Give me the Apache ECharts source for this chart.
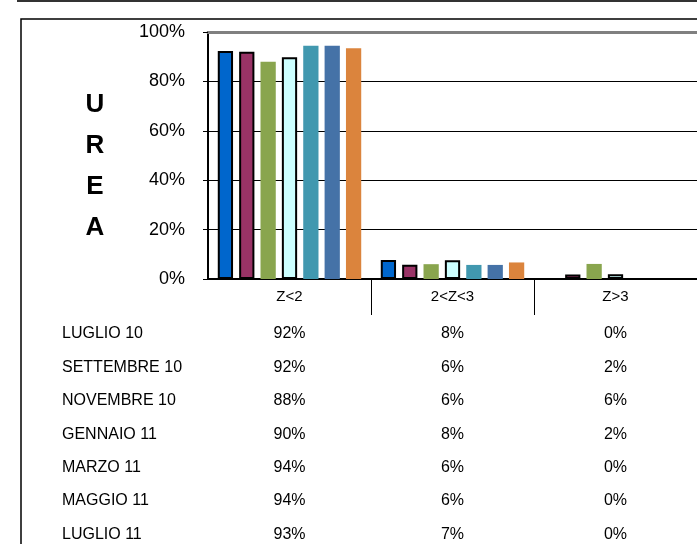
<!DOCTYPE html>
<html>
<head>
<meta charset="utf-8">
<script src="https://cdn.jsdelivr.net/npm/echarts@6/dist/echarts.min.js"></script>
<style>
  html, body { margin: 0; padding: 0; background: #fff; }
  #main { width: 697px; height: 544px; }
</style>
</head>
<body>
<div id="main"></div>
<script>
// categorie (classi di Z-score)
var categories = ['Z<2', '2<Z<3', 'Z>3'];
// periodi (serie)
var periods = ['LUGLIO 10', 'SETTEMBRE 10', 'NOVEMBRE 10', 'GENNAIO 11', 'MARZO 11', 'MAGGIO 11', 'LUGLIO 11'];
// valori % per periodo
var luglio10 = [92.3, 7.7, 0];
var settembre10 = [92.0, 5.8, 1.8];
var novembre10 = [88.0, 6.0, 6.1];
var gennaio11 = [89.8, 7.6, 1.9];
var marzo11 = [94.4, 5.7, 0];
var maggio11 = [94.4, 5.7, 0];
var luglio11 = [93.4, 6.7, 0];
var yTicks = [0, 20, 40, 60, 80, 100];

var values = [luglio10, settembre10, novembre10, gennaio11, marzo11, maggio11, luglio11];
var colors = ['#0066CC', '#993366', '#89A54E', '#CCFFFF', '#4198AF', '#4572A7', '#DB843D'];
var bordered = [true, true, false, true, false, false, false];

var font = 'Liberation Sans, Arial, sans-serif';
var myChart = echarts.init(document.getElementById('main'));

// asse principale + asse superiore grigio + un asse per ogni riga della tabella
var xAxes = [
  {
    type: 'category',
    data: categories,
    position: 'bottom',
    axisLine: { lineStyle: { color: '#000', width: 2 } },
    axisTick: {
      show: true,
      length: 36,
      lineStyle: { color: '#000', width: 1 },
      interval: function (index) { return index !== 0; }
    },
    axisLabel: { color: '#000', fontSize: 15, fontFamily: font, margin: 10 }
  },
  {
    type: 'category',
    data: categories,
    position: 'top',
    axisLine: { lineStyle: { color: '#808080', width: 3 } },
    axisTick: { show: false },
    axisLabel: { show: false }
  }
];
var rowStart = 55;
var rowStep = 33.4;
periods.forEach(function (name, i) {
  xAxes.push({
    type: 'category',
    data: categories,
    position: 'bottom',
    offset: rowStart + rowStep * i,
    name: name,
    nameLocation: 'start',
    nameGap: 146,
    nameTextStyle: { align: 'left', color: '#000', fontSize: 16, fontFamily: font, padding: [0, 0, 3, 0] },
    axisLine: { show: false },
    axisTick: { show: false },
    axisLabel: {
      color: '#000', fontSize: 16, fontFamily: font, margin: 0,
      verticalAlign: 'middle',
      formatter: function (v, idx) { return Math.round(values[i][idx]) + '%'; }
    }
  });
});

var option = {
  animation: false,
  backgroundColor: '#fff',
  title: {
    text: 'U\nR\nE\nA',
    left: 90,
    top: 79,
    textAlign: 'center',
    textStyle: { fontSize: 26, fontWeight: 'bold', fontFamily: font, color: '#000', lineHeight: 41 }
  },
  grid: { left: 208, top: 32, width: 495, height: 247 },
  xAxis: xAxes,
  yAxis: {
    type: 'value',
    min: yTicks[0],
    max: yTicks[yTicks.length - 1],
    interval: yTicks[1] - yTicks[0],
    axisLine: { show: true, lineStyle: { color: '#000', width: 2 } },
    axisTick: { show: true, length: 5, lineStyle: { color: '#000' } },
    axisLabel: { formatter: '{value}%', color: '#000', fontSize: 18, fontFamily: font, margin: 23 },
    splitLine: { lineStyle: { color: '#000', width: 1 } }
  },
  series: periods.map(function (name, i) {
    return {
      name: name,
      type: 'bar',
      data: values[i],
      barGap: '40%',
      barCategoryGap: '12%',
      itemStyle: {
        color: colors[i],
        borderColor: bordered[i] ? '#000' : colors[i],
        borderWidth: bordered[i] ? 2 : 0
      }
    };
  }),
  graphic: [
    { type: 'line', shape: { x1: 17, y1: 1, x2: 697, y2: 1 }, style: { stroke: '#333', lineWidth: 2 } },
    { type: 'rect', shape: { x: 21, y: 19, width: 700, height: 600 }, style: { fill: null, stroke: '#000', lineWidth: 1.5 }, z: -1 }
  ]
};

myChart.setOption(option);
</script>
</body>
</html>
